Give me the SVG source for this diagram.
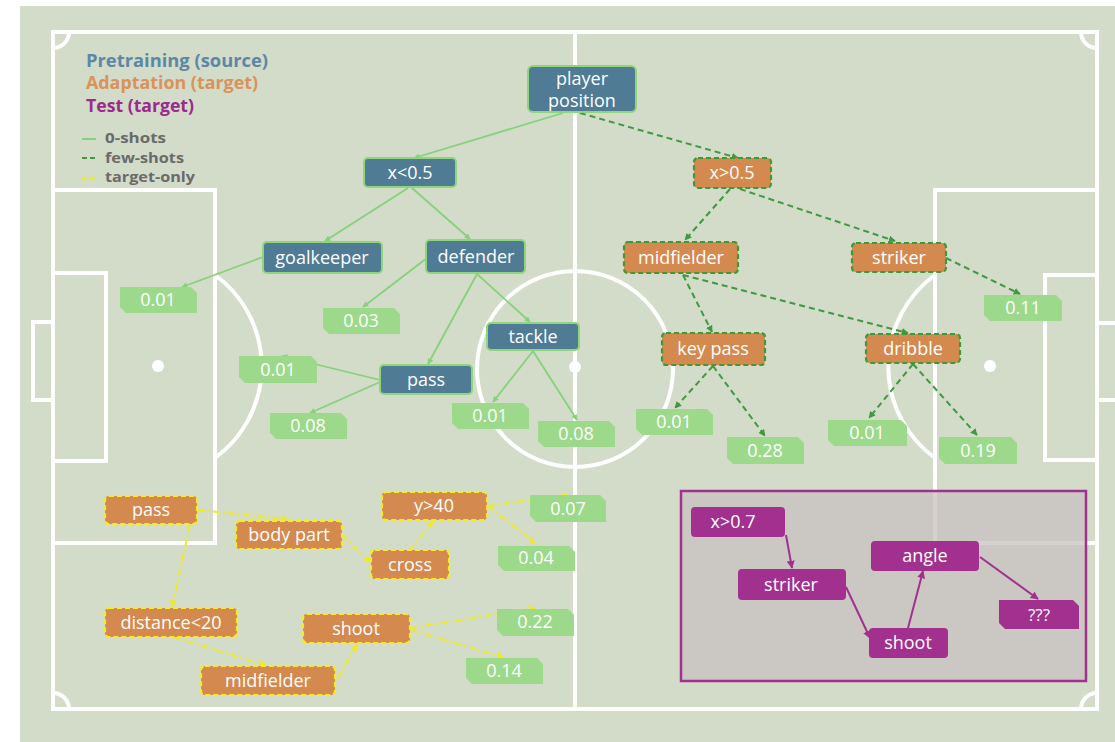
<svg xmlns="http://www.w3.org/2000/svg" width="1115" height="742" viewBox="0 0 1115 742">
<style>
text{font-family:"Open Sans","Liberation Sans",sans-serif;}
.fl{fill:none;stroke:#ffffff;stroke-width:4;}
.nt{fill:#ffffff;font-size:18px;text-anchor:middle;dominant-baseline:central;}
.vt{fill:#ffffff;font-size:18px;text-anchor:middle;dominant-baseline:central;}
.blue{fill:#4f7b94;stroke:#8ed57c;stroke-width:2;}
.few{fill:#d4894f;stroke:#3b9b3b;stroke-width:2.2;stroke-dasharray:5 3;}
.tgt{fill:#d4894f;stroke:#f3ef1c;stroke-width:2.2;stroke-dasharray:5 3;}
.val{fill:#9cd98b;}
.pur{fill:#a1308f;}
.e0{fill:none;stroke:#86d27a;stroke-width:1.8;marker-end:url(#aL);}
.e1{fill:none;stroke:#3f9a3f;stroke-width:2;stroke-dasharray:6 4;marker-end:url(#aD);}
.e2{fill:none;stroke:#efeb22;stroke-width:2;stroke-dasharray:7 3 2 3;marker-end:url(#aY);}
.e3{fill:none;stroke:#a1308f;stroke-width:2;marker-end:url(#aP);}
.lg{font-size:17.5px;font-weight:bold;}
.ls{font-size:14px;font-weight:bold;fill:#6a6a6a;}
</style>
<defs>
<marker id="aL" viewBox="0 0 10 10" refX="9" refY="5" markerWidth="6" markerHeight="6" orient="auto" markerUnits="userSpaceOnUse"><path d="M0,0 L10,5 L0,10 Z" fill="#86d27a"/></marker>
<marker id="aD" viewBox="0 0 10 10" refX="9" refY="5" markerWidth="7" markerHeight="7" orient="auto" markerUnits="userSpaceOnUse"><path d="M0,0 L10,5 L0,10 Z" fill="#3f9a3f"/></marker>
<marker id="aY" viewBox="0 0 10 10" refX="9" refY="5" markerWidth="7" markerHeight="7" orient="auto" markerUnits="userSpaceOnUse"><path d="M0,0 L10,5 L0,10 Z" fill="#efeb22"/></marker>
<marker id="aP" viewBox="0 0 10 10" refX="9" refY="5" markerWidth="8" markerHeight="8" orient="auto" markerUnits="userSpaceOnUse"><path d="M0,0 L10,5 L0,10 Z" fill="#a1308f"/></marker>
</defs>
<rect x="0" y="0" width="1115" height="742" fill="#ffffff"/>
<rect x="20" y="6" width="1095" height="736" fill="#d3dbc9"/>
<g id="field">
<rect class="fl" x="53" y="32" width="1044" height="677"/>
<line class="fl" x1="575" y1="32" x2="575" y2="709"/>
<circle class="fl" cx="575" cy="369" r="98"/>
<circle cx="575" cy="367" r="6" fill="#ffffff"/>
<rect class="fl" x="53" y="190" width="162" height="353"/>
<rect class="fl" x="53" y="273" width="53" height="188"/>
<rect class="fl" x="33" y="322" width="20" height="78"/>
<circle cx="158" cy="366" r="6" fill="#ffffff"/>
<path class="fl" d="M215,275 A113,113 0 0 1 215,458"/>
<rect class="fl" x="935" y="190" width="162" height="353"/>
<rect class="fl" x="1045" y="275" width="52" height="185"/>
<rect class="fl" x="1097" y="323" width="22" height="77"/>
<circle cx="990" cy="366" r="6" fill="#ffffff"/>
<path class="fl" d="M935,275 A113,113 0 0 0 935,458"/>
<path class="fl" d="M53,48 A16,16 0 0 0 69,32"/>
<path class="fl" d="M1081,32 A16,16 0 0 0 1097,48"/>
<path class="fl" d="M53,693 A16,16 0 0 1 69,709"/>
<path class="fl" d="M1081,709 A16,16 0 0 1 1097,693"/>
</g>
<g id="legend">
<text class="lg" x="86" y="67" fill="#5b88a5" textLength="182" lengthAdjust="spacingAndGlyphs">Pretraining (source)</text>
<text class="lg" x="86" y="89" fill="#d9935a" textLength="172" lengthAdjust="spacingAndGlyphs">Adaptation (target)</text>
<text class="lg" x="86" y="112" fill="#9b2a8c" textLength="108" lengthAdjust="spacingAndGlyphs">Test (target)</text>
<line x1="82" y1="139" x2="96" y2="139" stroke="#86d27a" stroke-width="2"/>
<line x1="82" y1="158" x2="96" y2="158" stroke="#3f9a3f" stroke-width="2" stroke-dasharray="5 3"/>
<line x1="82" y1="178" x2="96" y2="178" stroke="#efeb22" stroke-width="2" stroke-dasharray="5 3"/>
<text class="ls" x="105" y="143" textLength="61" lengthAdjust="spacingAndGlyphs">0-shots</text>
<text class="ls" x="105" y="163" textLength="79" lengthAdjust="spacingAndGlyphs">few-shots</text>
<text class="ls" x="105" y="182" textLength="90" lengthAdjust="spacingAndGlyphs">target-only</text>
</g>
<g id="testbox">
<rect x="681" y="491" width="405" height="190" fill="#c7bfbf" fill-opacity="0.72" stroke="#a1308f" stroke-width="2.5"/>
</g>
<g id="connectors">
<line class="e0" x1="563" y1="113" x2="414" y2="158"/>
<line class="e1" x1="580" y1="113" x2="738" y2="158"/>
<line class="e0" x1="408" y1="188" x2="325" y2="241"/>
<line class="e0" x1="412" y1="188" x2="470" y2="239"/>
<line class="e0" x1="263" y1="257" x2="182" y2="287"/>
<line class="e0" x1="427" y1="258" x2="363" y2="307"/>
<line class="e0" x1="477" y1="274" x2="428" y2="364"/>
<line class="e0" x1="477" y1="274" x2="530" y2="322"/>
<line class="e0" x1="380" y1="380" x2="282" y2="356"/>
<line class="e0" x1="380" y1="382" x2="310" y2="413"/>
<line class="e0" x1="533" y1="351" x2="493" y2="402"/>
<line class="e0" x1="533" y1="351" x2="577" y2="420"/>
<line class="e1" x1="730" y1="189" x2="685" y2="240"/>
<line class="e1" x1="740" y1="189" x2="895" y2="241"/>
<line class="e1" x1="683" y1="275" x2="712" y2="332"/>
<line class="e1" x1="683" y1="275" x2="908" y2="333"/>
<line class="e1" x1="946" y1="258" x2="1020" y2="294"/>
<line class="e1" x1="713" y1="366" x2="675" y2="408"/>
<line class="e1" x1="713" y1="366" x2="765" y2="436"/>
<line class="e1" x1="913" y1="364" x2="869" y2="418"/>
<line class="e1" x1="913" y1="364" x2="977" y2="435"/>
<line class="e2" x1="198" y1="510" x2="287" y2="519"/>
<line class="e2" x1="190" y1="525" x2="172" y2="607"/>
<line class="e2" x1="342" y1="535" x2="370" y2="562"/>
<line class="e2" x1="410" y1="550" x2="433" y2="521"/>
<line class="e2" x1="488" y1="506" x2="567" y2="495"/>
<line class="e2" x1="488" y1="506" x2="535" y2="543"/>
<line class="e2" x1="173" y1="637" x2="265" y2="665"/>
<line class="e2" x1="338" y1="678" x2="357" y2="644"/>
<line class="e2" x1="411" y1="628" x2="535" y2="608"/>
<line class="e2" x1="411" y1="630" x2="503" y2="657"/>
<line class="e3" x1="786" y1="535" x2="792" y2="568"/>
<line class="e3" x1="846" y1="587" x2="870" y2="638"/>
<line class="e3" x1="908" y1="628" x2="923" y2="571"/>
<line class="e3" x1="980" y1="557" x2="1038" y2="599"/>
</g>
<g id="n-player-position"><rect class="blue" x="528" y="66" width="108" height="46" rx="5"/><text class="nt" x="582" y="78">player</text><text class="nt" x="582" y="100">position</text></g>
<g id="n-x-lt"><rect class="blue" x="364" y="158" width="92" height="29" rx="4"/><text class="nt" x="410" y="172">x&lt;0.5</text></g>
<g id="n-goalkeeper"><rect class="blue" x="263" y="242" width="119" height="31" rx="4"/><text class="nt" x="322" y="257">goalkeeper</text></g>
<g id="n-defender"><rect class="blue" x="426" y="240" width="99" height="33" rx="4"/><text class="nt" x="476" y="256">defender</text></g>
<g id="n-tackle"><rect class="blue" x="487" y="323" width="92" height="27" rx="4"/><text class="nt" x="533" y="336">tackle</text></g>
<g id="n-pass"><rect class="blue" x="380" y="365" width="92" height="29" rx="4"/><text class="nt" x="426" y="379">pass</text></g>
<g id="n-x-gt"><rect class="few" x="694" y="158" width="77" height="30" rx="4"/><text class="nt" x="732" y="172">x&gt;0.5</text></g>
<g id="n-midfielder"><rect class="few" x="624" y="242" width="114" height="31" rx="4"/><text class="nt" x="681" y="257">midfielder</text></g>
<g id="n-striker"><rect class="few" x="852" y="243" width="94" height="29" rx="4"/><text class="nt" x="899" y="257">striker</text></g>
<g id="n-key-pass"><rect class="few" x="662" y="333" width="103" height="32" rx="4"/><text class="nt" x="713" y="348">key pass</text></g>
<g id="n-dribble"><rect class="few" x="866" y="334" width="94" height="29" rx="4"/><text class="nt" x="913" y="348">dribble</text></g>
<g id="t-pass"><rect class="tgt" x="105" y="496" width="92" height="28" rx="4"/><text class="nt" x="151" y="509">pass</text></g>
<g id="t-body-part"><rect class="tgt" x="236" y="521" width="106" height="28" rx="4"/><text class="nt" x="289" y="534">body part</text></g>
<g id="t-y40"><rect class="tgt" x="382" y="492" width="105" height="28" rx="4"/><text class="nt" x="434" y="505">y&gt;40</text></g>
<g id="t-cross"><rect class="tgt" x="371" y="550" width="78" height="29" rx="4"/><text class="nt" x="410" y="564">cross</text></g>
<g id="t-distance"><rect class="tgt" x="105" y="608" width="132" height="29" rx="4"/><text class="nt" x="171" y="622">distance&lt;20</text></g>
<g id="t-shoot"><rect class="tgt" x="303" y="614" width="107" height="29" rx="4"/><text class="nt" x="356" y="628">shoot</text></g>
<g id="t-midfielder"><rect class="tgt" x="201" y="666" width="134" height="29" rx="4"/><text class="nt" x="268" y="680">midfielder</text></g>
<g id="v1"><path class="val" d="M120,287 H191 L197,293 V313 H126 L120,307 Z"/><text class="vt" x="158" y="299">0.01</text></g>
<g id="v2"><path class="val" d="M323,308 H394 L400,314 V334 H329 L323,328 Z"/><text class="vt" x="361" y="320">0.03</text></g>
<g id="v3"><path class="val" d="M239,356 H311 L317,362 V383 H245 L239,377 Z"/><text class="vt" x="278" y="369">0.01</text></g>
<g id="v4"><path class="val" d="M270,413 H341 L347,419 V439 H276 L270,433 Z"/><text class="vt" x="308" y="425">0.08</text></g>
<g id="v5"><path class="val" d="M452,403 H523 L529,409 V429 H458 L452,423 Z"/><text class="vt" x="490" y="415">0.01</text></g>
<g id="v6"><path class="val" d="M538,421 H609 L615,427 V447 H544 L538,441 Z"/><text class="vt" x="576" y="433">0.08</text></g>
<g id="v7"><path class="val" d="M636,409 H707 L713,415 V435 H642 L636,429 Z"/><text class="vt" x="674" y="421">0.01</text></g>
<g id="v8"><path class="val" d="M727,437 H798 L804,443 V464 H733 L727,458 Z"/><text class="vt" x="765" y="450">0.28</text></g>
<g id="v9"><path class="val" d="M984,295 H1056 L1062,301 V321 H990 L984,315 Z"/><text class="vt" x="1023" y="307">0.11</text></g>
<g id="v10"><path class="val" d="M828,420 H901 L907,426 V446 H834 L828,440 Z"/><text class="vt" x="867" y="432">0.01</text></g>
<g id="v11"><path class="val" d="M939,437 H1011 L1017,443 V464 H945 L939,458 Z"/><text class="vt" x="978" y="450">0.19</text></g>
<g id="v12"><path class="val" d="M530,495 H600 L606,501 V522 H536 L530,516 Z"/><text class="vt" x="568" y="508">0.07</text></g>
<g id="v13"><path class="val" d="M498,546 H569 L575,552 V571 H504 L498,565 Z"/><text class="vt" x="536" y="557">0.04</text></g>
<g id="v14"><path class="val" d="M497,609 H568 L574,615 V636 H503 L497,630 Z"/><text class="vt" x="535" y="621">0.22</text></g>
<g id="v15"><path class="val" d="M466,658 H537 L543,664 V684 H472 L466,678 Z"/><text class="vt" x="504" y="670">0.14</text></g>
<g id="p-x07"><rect class="pur" x="691" y="507" width="94" height="30" rx="4"/><text class="nt" x="733" y="521">x&gt;0.7</text></g>
<g id="p-striker"><rect class="pur" x="738" y="569" width="108" height="31" rx="4"/><text class="nt" x="791" y="584">striker</text></g>
<g id="p-shoot"><rect class="pur" x="869" y="628" width="79" height="30" rx="4"/><text class="nt" x="908" y="642">shoot</text></g>
<g id="p-angle"><rect class="pur" x="871" y="541" width="108" height="30" rx="4"/><text class="nt" x="925" y="555">angle</text></g>
<g id="p-unknown"><path class="pur" d="M999,600 H1073 L1079,606 V629 H1005 L999,623 Z"/><text class="nt" x="1039" y="614" style="font-size:17px">???</text></g>
</svg>
